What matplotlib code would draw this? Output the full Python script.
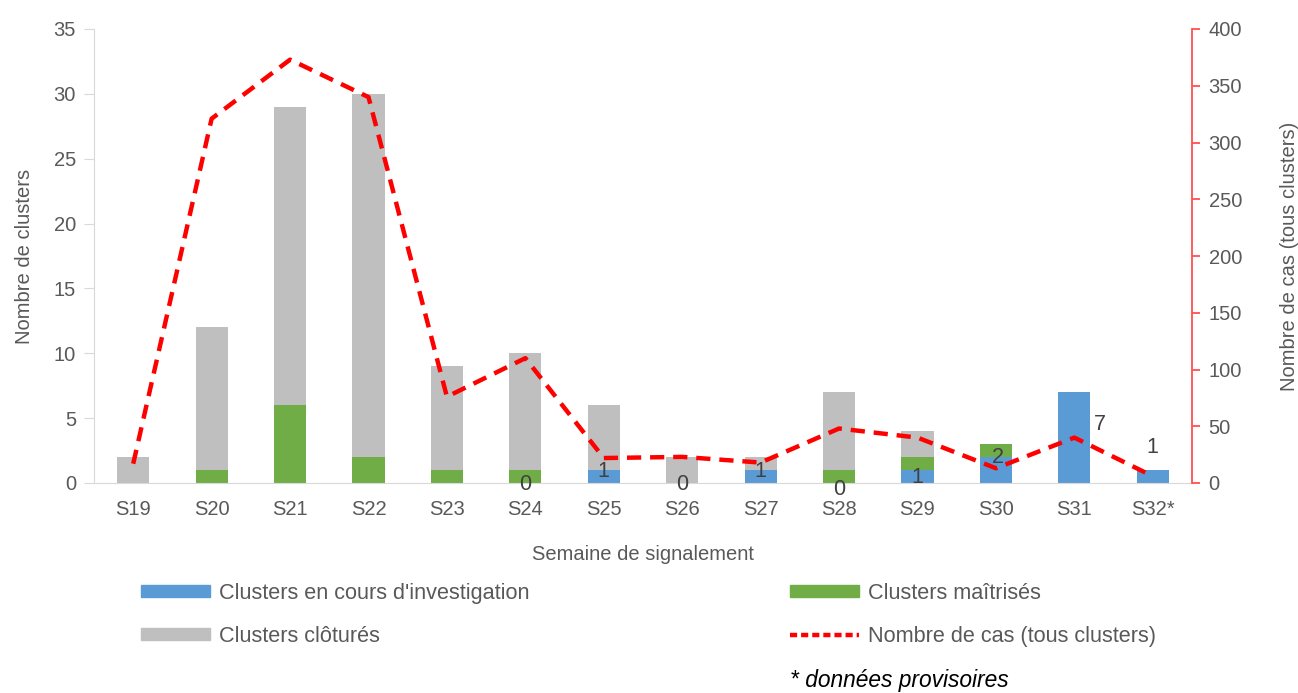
import numpy as np
import matplotlib
matplotlib.use("Agg")
import matplotlib.pyplot as plt
from matplotlib.lines import Line2D
from matplotlib.patches import Patch

plt.rcParams['font.family'] = ['Liberation Sans', 'DejaVu Sans']

#
# data
#
weeks = ['S19', 'S20', 'S21', 'S22', 'S23', 'S24', 'S25', 'S26',
         'S27', 'S28', 'S29', 'S30', 'S31', 'S32*']
en_cours = [0, 0, 0, 0, 0, 0, 1, 0, 1, 0, 1, 2, 7, 1]
maitrises = [0, 1, 6, 2, 1, 1, 0, 0, 0, 1, 1, 1, 0, 0]
clotures = [2, 11, 23, 28, 8, 9, 5, 2, 1, 6, 2, 0, 0, 0]
nb_cas = [17, 321, 373, 340, 76, 110, 22, 23, 18, 48, 40, 13, 40, 6]

# value labels (blue series) are only shown from S24 on
first_label = 5
# label anchors in data coords (x offset from bar centre, y position)
label_dx = [0, 0, 0, 0, 0, 0, 0.03, 0.32, 0]
label_y = [-0.15, 0.85, -0.15, 0.85, -0.5, 0.45, 2.0, 4.5, 2.7]

c_blue = '#5B9BD5'
c_green = '#70AD47'
c_gray = '#BFBFBF'
c_text = '#595959'
fs = 14.5

x = np.arange(len(weeks))
en_cours = np.array(en_cours)
maitrises = np.array(maitrises)
clotures = np.array(clotures)

fig = plt.figure(figsize=(12.98, 6.93), dpi=100)
ax = fig.add_axes([94/1298, 1-483/693, (1192-94)/1298, (483-29)/693])

w = 0.41
ax.bar(x, en_cours, w, color=c_blue, zorder=2)
ax.bar(x, maitrises, w, bottom=en_cours, color=c_green, zorder=2)
ax.bar(x, clotures, w, bottom=en_cours+maitrises, color=c_gray, zorder=2)

for i, (dx, yy) in enumerate(zip(label_dx, label_y)):
    k = first_label + i
    ax.text(x[k] + dx, yy, str(en_cours[k]), ha='center', va='center',
            fontsize=15.5, color='#404040', zorder=5)

ax.set_xlim(-0.5, len(weeks) - 0.5)
ax.set_ylim(0, 35)
ax.set_yticks(np.arange(0, 36, 5))
ax.set_xticks(x)
ax.set_xticklabels(weeks)
ax.tick_params(axis='x', length=0, pad=12, labelsize=fs, labelcolor=c_text)
ax.tick_params(axis='y', length=7, color='#D9D9D9', pad=6, labelsize=fs,
               labelcolor=c_text)
for s in ['top', 'right']:
    ax.spines[s].set_visible(False)
ax.spines['left'].set_color('#D9D9D9')
ax.spines['bottom'].set_color('#D9D9D9')
ax.set_ylabel('Nombre de clusters', fontsize=fs, color=c_text, labelpad=14)
ax.set_xlabel('Semaine de signalement', fontsize=fs, color=c_text, labelpad=19)

ax2 = ax.twinx()
ax2.plot(x, nb_cas, color='#FF0000', lw=3.2, dashes=(3.2, 2.0), zorder=4)
ax2.set_ylim(0, 400)
ax2.set_yticks(np.arange(0, 401, 50))
for s in ['top', 'left', 'bottom']:
    ax2.spines[s].set_visible(False)
ax2.spines['right'].set_color('#FF5050')
ax2.spines['right'].set_linewidth(1.3)
ax2.tick_params(axis='y', length=6, color='#FF5050', width=1.3, pad=6,
                labelsize=fs, labelcolor=c_text)
ax2.set_ylabel('Nombre de cas (tous clusters)', fontsize=fs, color=c_text,
               labelpad=27)

handles = [Patch(color=c_blue), Patch(color=c_gray),
           Patch(color=c_green),
           Line2D([], [], color='#FF0000', lw=3.2, dashes=(1.6, 0.9))]
labels = ["Clusters en cours d'investigation", 'Clusters clôturés',
          'Clusters maîtrisés', 'Nombre de cas (tous clusters)']
fig.legend(handles, labels, ncol=2, loc='upper left',
           bbox_to_anchor=(141/1298, 1-583/693), bbox_transform=fig.transFigure,
           frameon=False, fontsize=15.6, handlelength=3.2, handleheight=0.5,
           handletextpad=0.4, columnspacing=12.0, labelspacing=1.0,
           borderpad=0, borderaxespad=0, labelcolor=c_text)

fig.text(790/1298, 1-680/693, '* données provisoires', fontsize=16.4,
         style='italic', color='black', va='center', ha='left')

fig.savefig('out.png', dpi=100)
